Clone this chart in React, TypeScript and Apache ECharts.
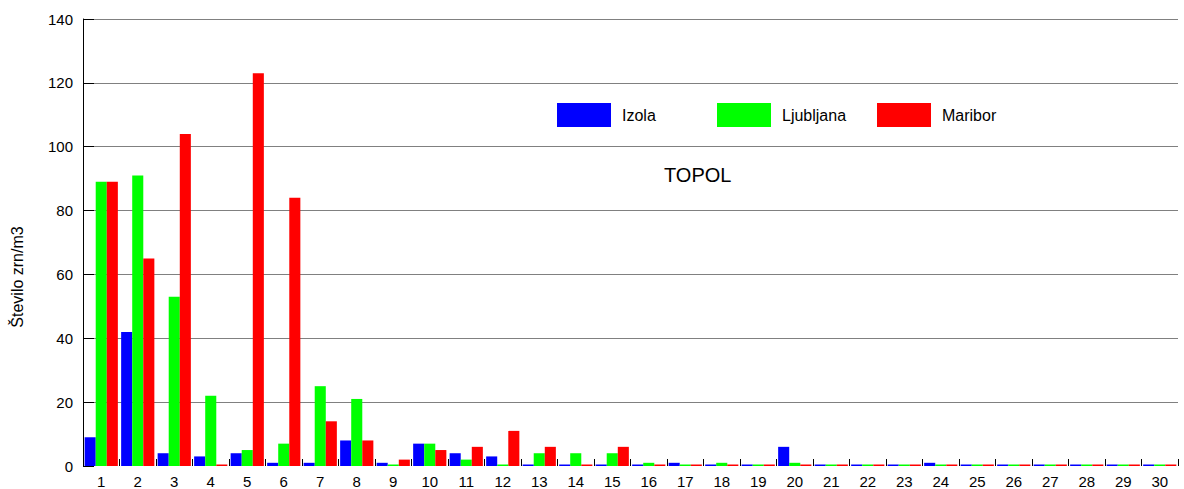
import React, { useEffect, useRef } from "react";
import * as echarts from "echarts";

const categories = Array.from({ length: 30 }, (_, i) => String(i + 1));
const izola = [9, 42, 4, 3, 4, 1, 1, 8, 1, 7, 4, 3, 0, 0, 0, 0, 1, 0, 0, 6, 0, 0, 0, 1, 0, 0, 0, 0, 0, 0];
const ljubljana = [89, 91, 53, 22, 5, 7, 25, 21, 0, 7, 2, 0, 4, 4, 4, 1, 0, 1, 0, 1, 0, 0, 0, 0, 0, 0, 0, 0, 0, 0];
const maribor = [89, 65, 104, 0, 123, 84, 14, 8, 2, 5, 6, 11, 6, 0, 6, 0, 0, 0, 0, 0, 0, 0, 0, 0, 0, 0, 0, 0, 0, 0];
const seriesNames = ["Izola", "Ljubljana", "Maribor"];
const colors = ["#0000ff", "#00ff00", "#ff0000"];
const FONT = "Liberation Sans, Arial, Helvetica, sans-serif";
const CAT_GAP = 0.09;

export default function App() {
  const ref = useRef<HTMLDivElement>(null);
  useEffect(() => {
    if (!ref.current) return;
    const chart = echarts.init(ref.current, null, { renderer: "svg" });
    const dataSets = [izola, ljubljana, maribor];
    const legendLefts = [557, 717, 877];
    const zeroData: number[][] = [];
    dataSets.forEach((arr, si) =>
      arr.forEach((v, ci) => {
        if (v === 0) zeroData.push([ci, v, si]);
      })
    );
    chart.setOption({
      animation: false,
      textStyle: { fontFamily: FONT },
      grid: { left: 83, right: 6, top: 19, bottom: 23, containLabel: false },
      legend: seriesNames.map((n, i) => ({
        data: [n],
        left: legendLefts[i],
        top: 103,
        itemWidth: 54,
        itemHeight: 24,
        icon: "rect",
        selectedMode: false,
        padding: 0,
        textStyle: { fontSize: 16, color: "#000", fontFamily: FONT, padding: [0, 0, 0, 6] },
      })),
      graphic: [
        {
          type: "text",
          left: 664,
          top: 165,
          style: { text: "TOPOL", fontSize: 20, fill: "#000", fontFamily: FONT },
        },
        {
          type: "text",
          x: 17,
          y: 277,
          rotation: Math.PI / 2,
          style: {
            text: "Število zrn/m3",
            fontSize: 16,
            fill: "#000",
            fontFamily: FONT,
            align: "center",
            verticalAlign: "middle",
          },
        },
      ],
      xAxis: {
        type: "category",
        data: categories,
        axisLine: { show: false },
        axisTick: { show: true, inside: true, length: 7, lineStyle: { color: "#000" } },
        axisLabel: { fontSize: 15, color: "#000", margin: 8, fontFamily: FONT },
        splitLine: { show: false },
      },
      yAxis: {
        type: "value",
        min: 0,
        max: 140,
        interval: 20,
        axisLine: { show: true, lineStyle: { color: "#000", width: 1 } },
        axisTick: { show: true, inside: true, length: 11, lineStyle: { color: "#000" } },
        axisLabel: { fontSize: 15, color: "#000", margin: 10, fontFamily: FONT },
        splitLine: { show: true, showMinLine: false, lineStyle: { color: "#808080", width: 1 } },
      },
      series: [
        ...seriesNames.map((n, i) => ({
          name: n,
          type: "bar",
          data: dataSets[i],
          itemStyle: { color: colors[i] },
          barGap: "0%",
          barCategoryGap: CAT_GAP * 100 + "%",
        })),
        {
          type: "custom",
          name: "zero",
          data: zeroData,
          dimensions: ["cat", "val", "ser"],
          encode: { x: 0, y: 1 },
          z: 3,
          clip: false,
          silent: true,
          renderItem: (params: any, api: any) => {
            const ci = api.value(0);
            const si = api.value(2);
            const p = api.coord([ci, 0]);
            const w = api.size([1, 0])[0];
            const bw = (w * (1 - CAT_GAP)) / 3;
            const x0 = p[0] - 1.5 * bw + si * bw;
            return {
              type: "rect",
              shape: { x: x0, y: Math.round(p[1]) - 1.5, width: bw, height: 1.5 },
              style: { fill: colors[si] },
            };
          },
        },
      ],
    });
    return () => chart.dispose();
  }, []);
  return <div ref={ref} style={{ width: 1184, height: 489, position: "absolute", left: 0, top: 0 }} />;
}
